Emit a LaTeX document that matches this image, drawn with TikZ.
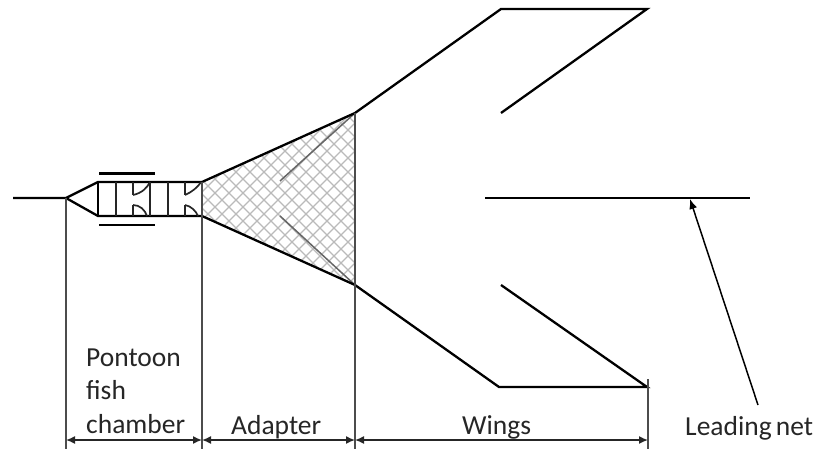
\documentclass[tikz,border=0pt]{standalone}
\usepackage{fontspec}
\setmainfont{Carlito}
\usetikzlibrary{arrows.meta}
\tikzset{
    net/.style={line width=2.3pt, black},
    thinwall/.style={line width=1.7pt, black!85},
    dim/.style={line width=1.5pt, black!70},
    span/.style={line width=1.5pt, black!85, {Latex[length=9pt,width=8pt]}-{Latex[length=9pt,width=8pt]}},
    mesh/.style={line width=1.4pt, black!27},
    seam/.style={line width=1.5pt, black!60},
    label/.style={anchor=base west, inner sep=0pt, font=\fontsize{27.5}{30}\selectfont, black!85}
}

\begin{document}
\begin{tikzpicture}[x=1pt, y=-1pt]
            \useasboundingbox (0, 0) rectangle (816, 449);

            \coordinate (lineend) at (13, 198);
            \coordinate (tip) at (66, 198);
            \coordinate (ctop) at (98, 182);
            \coordinate (cbot) at (98, 216);
            \coordinate (atop) at (202, 182);
            \coordinate (abot) at (202, 216);
            \coordinate (wtop) at (355, 113);
            \coordinate (wbot) at (355, 285);
            \coordinate (utop) at (501, 9);
            \coordinate (utip) at (647, 9);
            \coordinate (uin) at (501, 113);
            \coordinate (ltop) at (499, 387);
            \coordinate (ltip) at (647, 387);
            \coordinate (lin) at (501, 285);
            \coordinate (midstart) at (485, 198);
            \coordinate (midend) at (750, 198);
            \coordinate (midhit) at (690, 199);

            % mesh of the adapter
            \begin{scope}
                \clip (atop) -- (wtop) -- (wbot) -- (abot) -- cycle;
                \foreach \i in {0, 14, ..., 350} {
                    \draw[mesh] (\i, 90) -- (\i + 220, 310);
                    \draw[mesh] (\i, 310) -- (\i + 220, 90);
                }
            \end{scope}
            \coordinate (seamtop) at (280, 181);
            \coordinate (seambot) at (280, 216);
            \draw[seam] (seamtop) -- (wtop);
            \draw[seam] (seambot) -- (wbot);

            % chamber
            \draw[net] (lineend) -- (tip) -- (ctop) -- (atop) -- (wtop) -- (utop) -- (utip) -- (uin);
            \draw[net] (tip) -- (cbot) -- (abot) -- (wbot) -- (ltop) -- (ltip) -- (lin);
            \draw[net] (midstart) -- (midend);
            \draw[net] (ctop) -- (cbot);
            \draw[thinwall] (116, 182) -- (116, 216);
            \draw[thinwall] (150, 182) -- (150, 216);
            \draw[thinwall] (168, 182) -- (168, 216);
            \draw[thinwall] (133, 182) -- (133, 195);
            \draw[thinwall] (133, 205) -- (133, 216);
            \draw[thinwall] (185, 182) -- (185, 195);
            \draw[thinwall] (185, 205) -- (185, 216);
            \draw[thinwall] (133, 195) .. controls (142, 193) and (147, 188) .. (150, 182);
            \draw[thinwall] (133, 205) .. controls (140, 205) and (145, 210) .. (147, 216);
            \draw[thinwall] (185, 195) .. controls (192, 192) and (198, 187) .. (201, 182);
            \draw[thinwall] (185, 205) .. controls (191, 206) and (196, 211) .. (198, 216);
            \draw[net] (99, 173.5) -- (155, 173.5);
            \draw[net] (99, 225) -- (155, 225);

            % limits and spans
            \coordinate (d0) at (66, 449);
            \coordinate (d1) at (202, 449);
            \coordinate (d2) at (355, 449);
            \coordinate (d3) at (648, 449);
            \coordinate (d3top) at (648, 379);
            \coordinate (s0) at (66, 440);
            \coordinate (s1) at (202, 440);
            \coordinate (s2) at (355, 440);
            \coordinate (s3) at (648, 440);
            \draw[dim] (tip) -- (d0);
            \draw[dim] (atop) -- (d1);
            \draw[dim] (wtop) -- (d2);
            \draw[dim] (d3top) -- (d3);
            \draw[span] (s0) -- (s1);
            \draw[span] (s1) -- (s2);
            \draw[span] (s2) -- (s3);

            \coordinate (leadfoot) at (758, 405);
            \draw[line width=1.5pt, -{Latex[length=10pt,width=8pt]}] (leadfoot) -- (midhit);

            \node[label] (pontoon) at (86, 366) {Pontoon};
            \node[label] (fish) at (86, 399) {fish};
            \node[label] (chamber) at (86, 433) {chamber};
            \node[label] (adapter) at (231, 434) {Adapter};
            \node[label] (wings) at (462, 434) {Wings};
            \node[label] (leading) at (685, 435) {Leading\kern-2pt\ net};
        \end{tikzpicture}
\end{document}
